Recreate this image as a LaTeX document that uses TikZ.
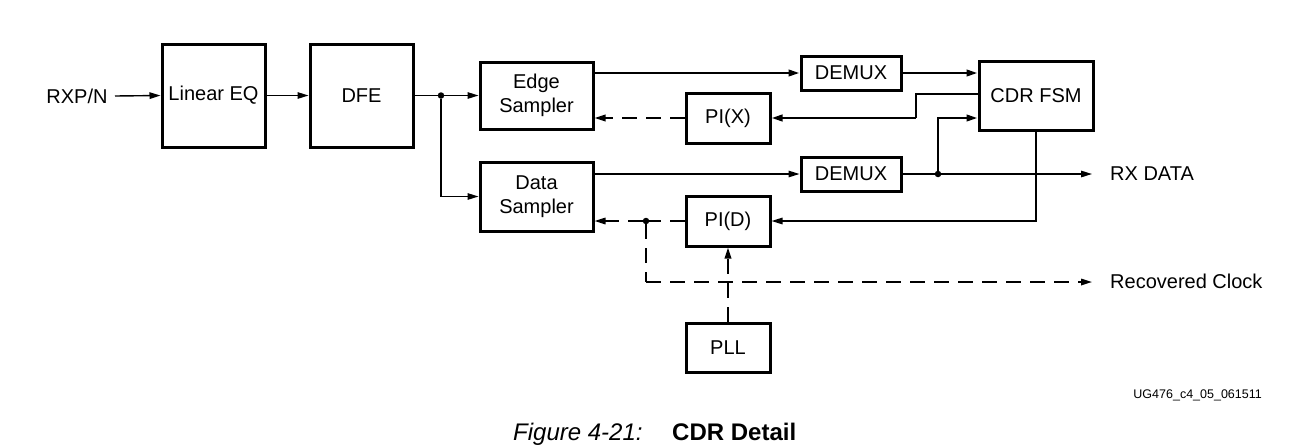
\documentclass[tikz,border=0pt]{standalone}
\usepackage{fontspec}
\setmainfont{Liberation Sans}
\usetikzlibrary{arrows.meta}
\tikzset{
  blk/.style={draw, line width=3pt, inner sep=0pt, font=\fontsize{20}{24}\selectfont, align=center},
  lbl/.style={inner sep=0pt, font=\fontsize{20}{24}\selectfont},
  thn/.style={line width=1.4pt},
  thk/.style={line width=2.4pt},
  dsh/.style={line width=2pt, dash pattern=on 15pt off 9pt},
  dshthin/.style={line width=1.6pt, dash pattern=on 15pt off 9pt},
  arr/.style={-{Triangle[length=11pt,width=6.5pt]}},
  jdot/.style={circle, fill, inner sep=0pt, minimum size=6.5pt}
}
\begin{document}
\begin{tikzpicture}[x=1pt,y=-1pt]
\useasboundingbox (0,0) rectangle (1305,445);
% blocks
\node[blk, minimum width=103pt, minimum height=103pt] (lineq) at (213.5,95.5) {Linear EQ};
\node[blk, minimum width=103pt, minimum height=103pt] (dfe) at (361.5,95.5) {DFE};
\node[blk, minimum width=113pt, minimum height=67pt] (edge) at (536.5,95.5) {Edge\\Sampler};
\node[blk, minimum width=113pt, minimum height=69pt] (data) at (536.5,196.5) {Data\\Sampler};
\node[blk, minimum width=100pt, minimum height=34pt] (demux1) at (851,73) {DEMUX};
\node[blk, minimum width=100pt, minimum height=34pt] (demux2) at (851,174) {DEMUX};
\node[blk, minimum width=84pt, minimum height=50pt] (pix) at (728,118) {PI(X)};
\node[blk, minimum width=84pt, minimum height=50pt] (pid) at (728,221) {PI(D)};
\node[blk, minimum width=84pt, minimum height=49pt] (pll) at (728,347.5) {PLL};
\node[blk, minimum width=114pt, minimum height=69pt] (cdr) at (1036,95.5) {CDR FSM};
% labels
\node[lbl] (rxp) at (77,96) {RXP/N};
\node[lbl, anchor=west] (rxdata) at (1110,174) {RX DATA};
\node[lbl, anchor=west] (rclk) at (1110,281) {Recovered Clock};
\node[inner sep=0pt, anchor=east, font=\fontsize{12.5}{14}\selectfont] (ug) at (1262,395) {UG476\_c4\_05\_061511};
\node[inner sep=0pt, anchor=base west, font=\fontsize{24}{28}\selectfont\itshape] (figno) at (513,440) {Figure 4-21:};
\node[inner sep=0pt, anchor=base west, font=\fontsize{24}{28}\selectfont\bfseries] (figtitle) at (672,440) {CDR Detail};
% coordinates
\coordinate (rxpin) at (115,96);
\node[jdot] (dot1) at (441,95.5) {};
\node[jdot] (dot2) at (938,174) {};
\node[jdot] (dot3) at (646,221) {};
\coordinate (c1) at (916,118);
\coordinate (rxend) at (1092,174);
\coordinate (clkcorner) at (646,282);
\coordinate (clkend) at (1092,282);
% connectors
\draw[thn, arr] (rxpin) -- (lineq.west);
\draw[thn, arr] (lineq.east) -- (dfe.west);
\draw[thn] (dfe.east) -- (dot1);
\draw[thn, arr] (dot1) -- (edge.west);
\draw[thn, arr] (dot1) |- (data.west);
\draw[thk, arr] (edge.east |- demux1.west) -- (demux1.west);
\draw[thk, arr] (demux1.east) -- (cdr.west |- demux1.east);
\draw[thn] (cdr.west |- 0,94) -| (c1);
\draw[thk, arr] (c1) -- (pix.east);
\draw[dsh, arr] (pix.west) -- (edge.east |- pix.west);
\draw[thn, arr] (data.east |- demux2.west) -- (demux2.west);
\draw[thn] (demux2.east) -- (dot2);
\draw[thn, arr] (dot2) -- (rxend);
\draw[thk, arr] (dot2) |- (cdr.west |- c1);
\draw[thn, arr] (cdr.south) |- (pid.east);
\draw[dshthin] (pid.west) -- (dot3);
\draw[dshthin, arr] (dot3) -- (data.east |- pid.west);
\draw[dshthin] (dot3) -- (clkcorner);
\draw[dshthin, arr] (clkcorner) -- (clkend);
\draw[dsh, arr] (pll.north) -- (pid.south);
\end{tikzpicture}
\end{document}
